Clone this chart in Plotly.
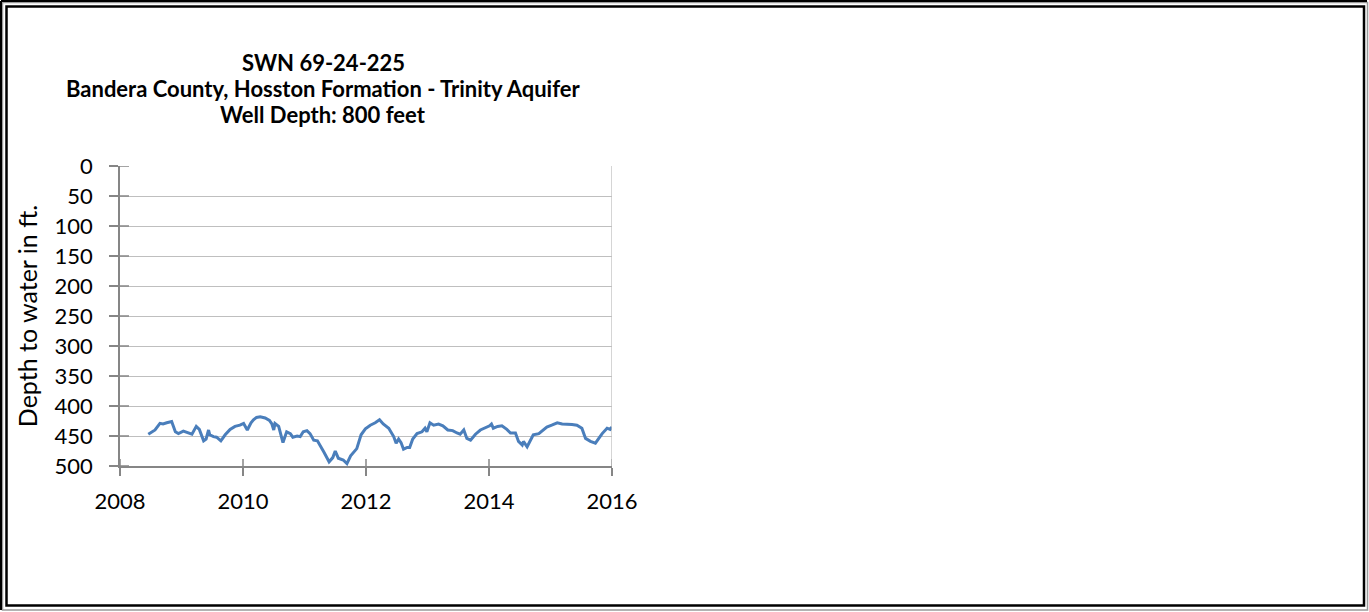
import plotly.graph_objects as go

## Data:
# ======================================
title_lines = ['SWN 69-24-225',
               'Bandera County, Hosston Formation - Trinity Aquifer',
               'Well Depth: 800 feet']
y_title = 'Depth to water in ft.'

years = [2008.46, 2008.57, 2008.65, 2008.70, 2008.76, 2008.84, 2008.90, 2008.95,
         2009.03, 2009.11, 2009.17, 2009.24, 2009.29, 2009.36, 2009.40, 2009.44,
         2009.46, 2009.52, 2009.57, 2009.64, 2009.71, 2009.79, 2009.87, 2009.95,
         2010.01, 2010.07, 2010.13, 2010.17, 2010.22, 2010.28, 2010.36, 2010.43,
         2010.47, 2010.50, 2010.52, 2010.58, 2010.65, 2010.71, 2010.77, 2010.81,
         2010.88, 2010.93, 2010.98, 2011.04, 2011.09, 2011.15, 2011.21, 2011.31,
         2011.40, 2011.46, 2011.50, 2011.55, 2011.63, 2011.69, 2011.75, 2011.85,
         2011.92, 2011.99, 2012.07, 2012.15, 2012.22, 2012.28, 2012.37, 2012.45,
         2012.49, 2012.53, 2012.57, 2012.61, 2012.67, 2012.71, 2012.76, 2012.83,
         2012.91, 2012.96, 2012.99, 2013.04, 2013.10, 2013.18, 2013.25, 2013.33,
         2013.41, 2013.48, 2013.53, 2013.59, 2013.64, 2013.70, 2013.78, 2013.86,
         2013.94, 2014.01, 2014.04, 2014.07, 2014.14, 2014.21, 2014.29, 2014.35,
         2014.43, 2014.48, 2014.54, 2014.56, 2014.62, 2014.68, 2014.72, 2014.81,
         2014.88, 2014.94, 2015.02, 2015.11, 2015.19, 2015.27, 2015.35, 2015.43,
         2015.51, 2015.57, 2015.65, 2015.73, 2015.78, 2015.84, 2015.92, 2015.97,
         2016.00]
depth = [447, 440, 429, 430, 428, 426, 443, 446,
         442, 445, 447, 434, 439, 458, 455, 440,
         448, 451, 452, 458, 448, 439, 434, 432,
         429, 440, 428, 423, 419, 418, 420, 424,
         430, 440, 429, 434, 461, 443, 446, 452,
         450, 451, 443, 441, 446, 457, 458, 476,
         493, 486, 475, 487, 490, 496, 483, 471,
         448, 438, 432, 428, 423, 430, 437, 451,
         462, 455, 461, 472, 469, 469, 455, 446,
         443, 437, 443, 428, 432, 430, 433, 440,
         441, 445, 447, 440, 454, 457, 447, 440,
         436, 433, 430, 437, 434, 433, 439, 445,
         445, 459, 465, 459, 468, 455, 448, 446,
         440, 435, 432, 428, 430, 430, 431, 432,
         437, 454, 459, 462, 455, 446, 437, 439,
         435]

x_ticks = [2008, 2010, 2012, 2014, 2016]
y_ticks = [0, 50, 100, 150, 200, 250, 300, 350, 400, 450, 500]

## Pixel layout of the plot area:
# ======================================
W, H = 1369, 612
PL, PR, PT, PB = 120, 612, 166, 466
FONT = 'Lato'
GRID = '#bfbfbf'
AXIS = '#868686'


def px(x):
    return (x - PL) / (PR - PL)


def py(y):
    return (PB - y) / (PB - PT)


## Figure:
# ======================================
fig = go.Figure()

fig.add_trace(go.Scatter(
    x=years, y=depth,
    mode='lines',
    line=dict(width=3, color='#4a7ebb'),
    hoverinfo='none',
    showlegend=False,
))

axis_common = dict(linecolor=AXIS, linewidth=1.5, tickcolor=AXIS, tickwidth=1.5,
                   tickfont=dict(family=FONT, size=22, color='black'))

fig.update_layout(
    width=W, height=H,
    margin=dict(l=PL, r=W - PR, t=PT, b=H - PB),
    paper_bgcolor='white',
    plot_bgcolor='white',
    xaxis=dict(range=[2008, 2016], tickvals=x_ticks, ticktext=[str(t) for t in x_ticks],
               showgrid=False, zeroline=False, showline=True,
               ticks='outside', ticklen=8, ticklabelstandoff=7, **axis_common),
    yaxis=dict(range=[500, 0], tickvals=y_ticks, showgrid=True, gridcolor=GRID,
               gridwidth=1.3, zeroline=False, showline=True,
               ticks='outside', ticklen=9, ticklabelstandoff=12, **axis_common,
               title=dict(text=y_title, font=dict(family=FONT, size=25, color='black'),
                          standoff=10)),
)

## Inner halves of the (crossing) tick marks:
# ======================================
for v in y_ticks:
    fig.add_shape(type='line', xref='paper', yref='y', x0=0, x1=px(129), y0=v, y1=v,
                  line=dict(color=AXIS, width=1.5))
for v in x_ticks:
    fig.add_shape(type='line', xref='x', yref='paper', x0=v, x1=v, y0=0, y1=py(459),
                  line=dict(color=AXIS, width=1.5))

## Title lines:
# ======================================
for txt, ypix in zip(title_lines, [62, 88, 114]):
    fig.add_annotation(text=f'<b>{txt}</b>', xref='paper', yref='paper',
                       x=px(323), y=py(ypix), xanchor='center', yanchor='middle',
                       showarrow=False, font=dict(family=FONT, size=22, color='black'))

## Right edge line of plot area:
# ======================================
fig.add_shape(type='line', xref='x', yref='paper', x0=2016, x1=2016, y0=0, y1=1,
              line=dict(color=GRID, width=1.3))

## Double frame round the chart:
# ======================================
fig.add_shape(type='rect', xref='paper', yref='paper',
              x0=px(2.5), x1=px(W - 1.5), y0=py(2.5), y1=py(H - 2),
              line=dict(color='#9a9a9a', width=1.5))
fig.add_shape(type='line', xref='paper', yref='paper',
              x0=px(1), x1=px(W - 2), y0=py(1), y1=py(1),
              line=dict(color='black', width=2))
fig.add_shape(type='line', xref='paper', yref='paper',
              x0=px(1), x1=px(1), y0=py(1), y1=py(H - 2),
              line=dict(color='black', width=2))
fig.add_shape(type='rect', xref='paper', yref='paper',
              x0=px(6.5), x1=px(W - 5), y0=py(6.5), y1=py(H - 6.5),
              line=dict(color='black', width=2.5))

# page body margin off, so the figure sits at the window's top left corner
fig.write_html("out.html", config={'displayModeBar': False},
               post_script="document.body.style.margin='0';")
